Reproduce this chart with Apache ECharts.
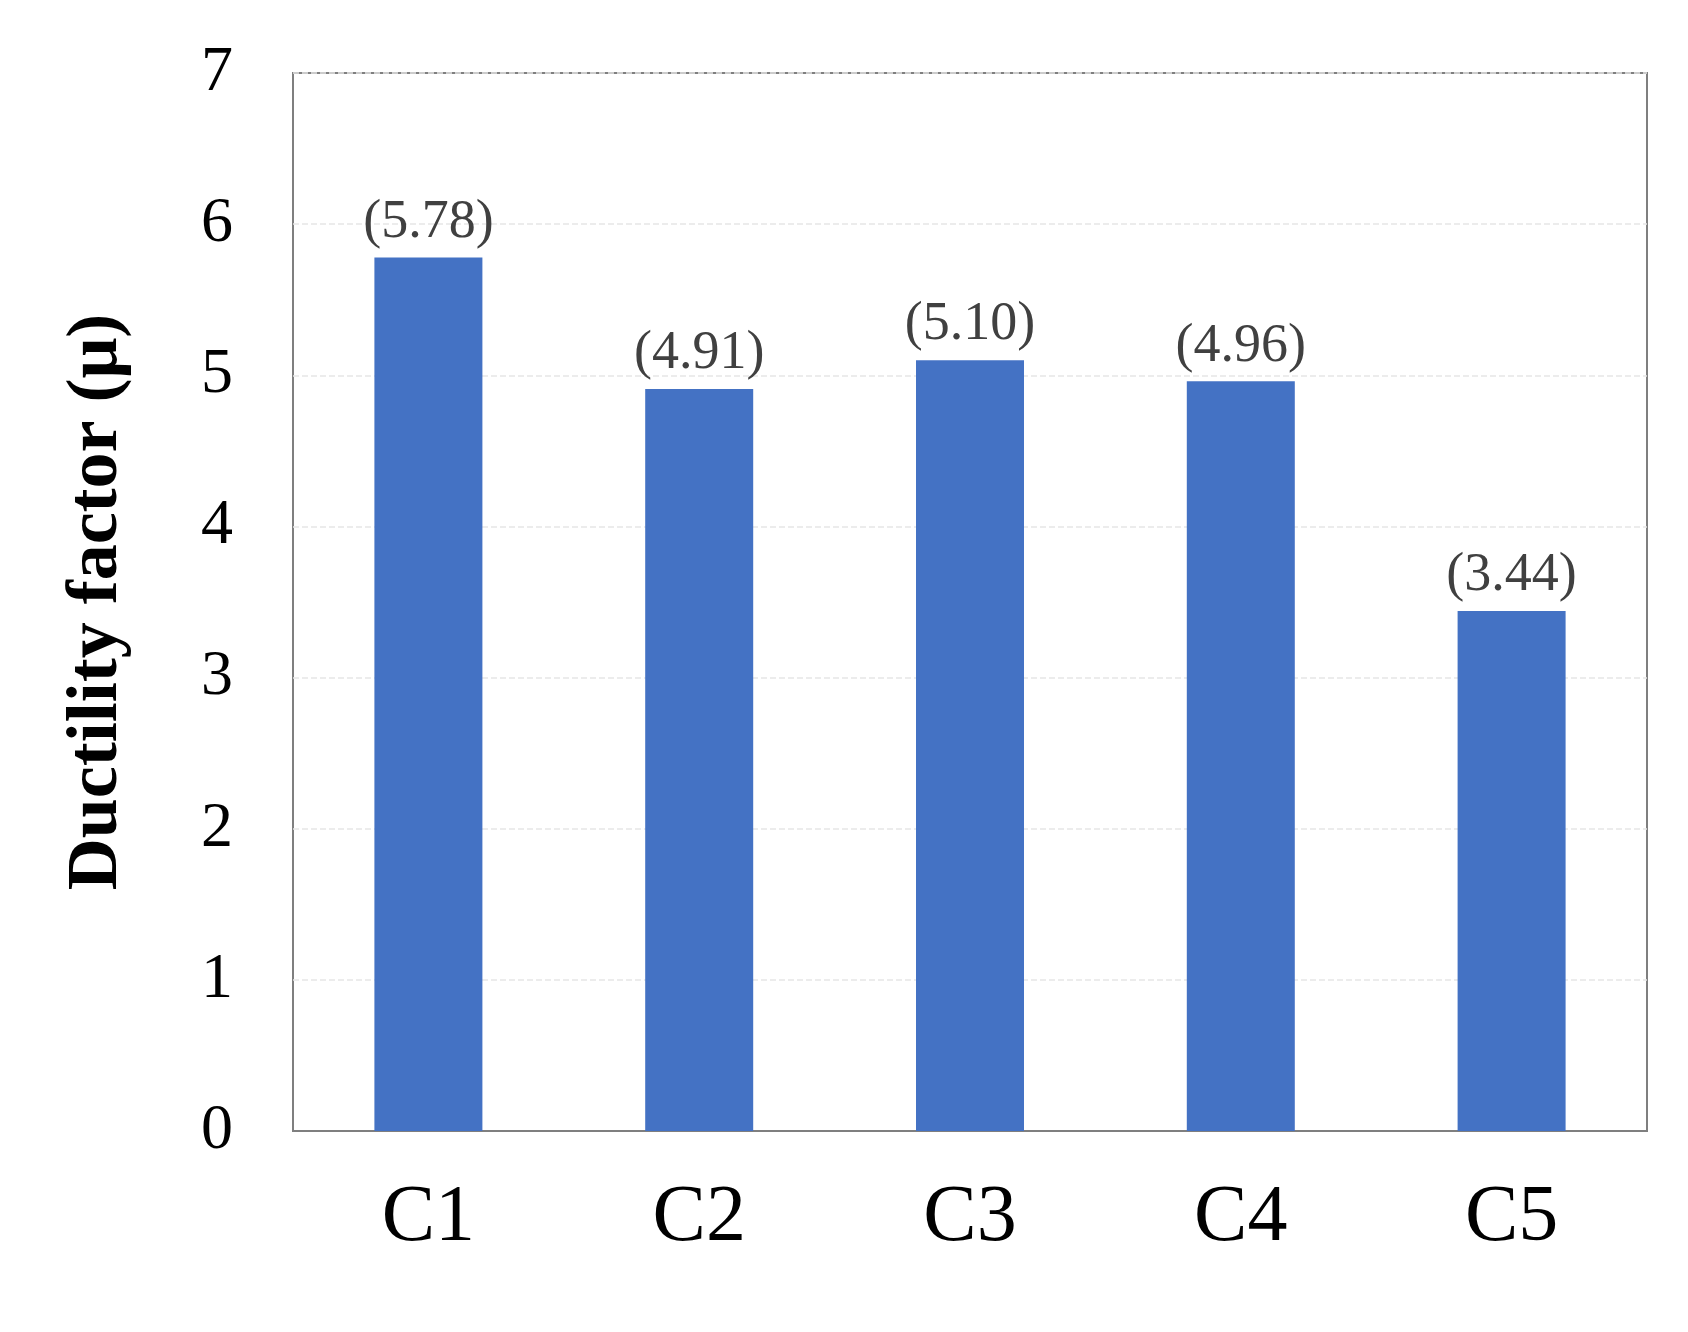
<!DOCTYPE html><html><head><meta charset="utf-8"><script src="https://cdn.jsdelivr.net/npm/echarts@6/dist/echarts.min.js"></script><style>body{margin:0}#c{width:1688px;height:1332px}</style></head><body><div id="c"></div><script>
const categories=['C1','C2','C3','C4','C5'];
const values=[5.78,4.91,5.10,4.96,3.44];
const F='"Liberation Serif","DejaVu Serif",serif';
const chart=echarts.init(document.getElementById('c'));
chart.setOption({animation:false,backgroundColor:'#fff',
grid:{left:293,right:41,top:73,bottom:201,show:true,borderColor:'#7f7f7f',borderWidth:2},
xAxis:{type:'category',data:categories,axisTick:{show:false},axisLine:{lineStyle:{color:'#7f7f7f',width:2}},axisLabel:{fontFamily:F,fontSize:80,color:'#000',margin:48}},
yAxis:{type:'value',min:0,max:7,interval:1,name:'Ductility factor (μ)',nameLocation:'middle',nameGap:160,nameTextStyle:{fontFamily:F,fontSize:72,fontWeight:'bold',color:'#000'},axisLabel:{fontFamily:F,fontSize:64,color:'#000',margin:60},splitLine:{lineStyle:{color:'#e6e6e6',type:'dashed',width:1.5}},axisLine:{show:false},axisTick:{show:false}},
series:[{type:'bar',data:values,barWidth:108,itemStyle:{color:'#4472c4'},label:{show:true,position:'top',distance:8,fontFamily:F,fontSize:54,color:'#404040',formatter:p=>'('+p.value.toFixed(2)+')'}}]});
</script></body></html>
